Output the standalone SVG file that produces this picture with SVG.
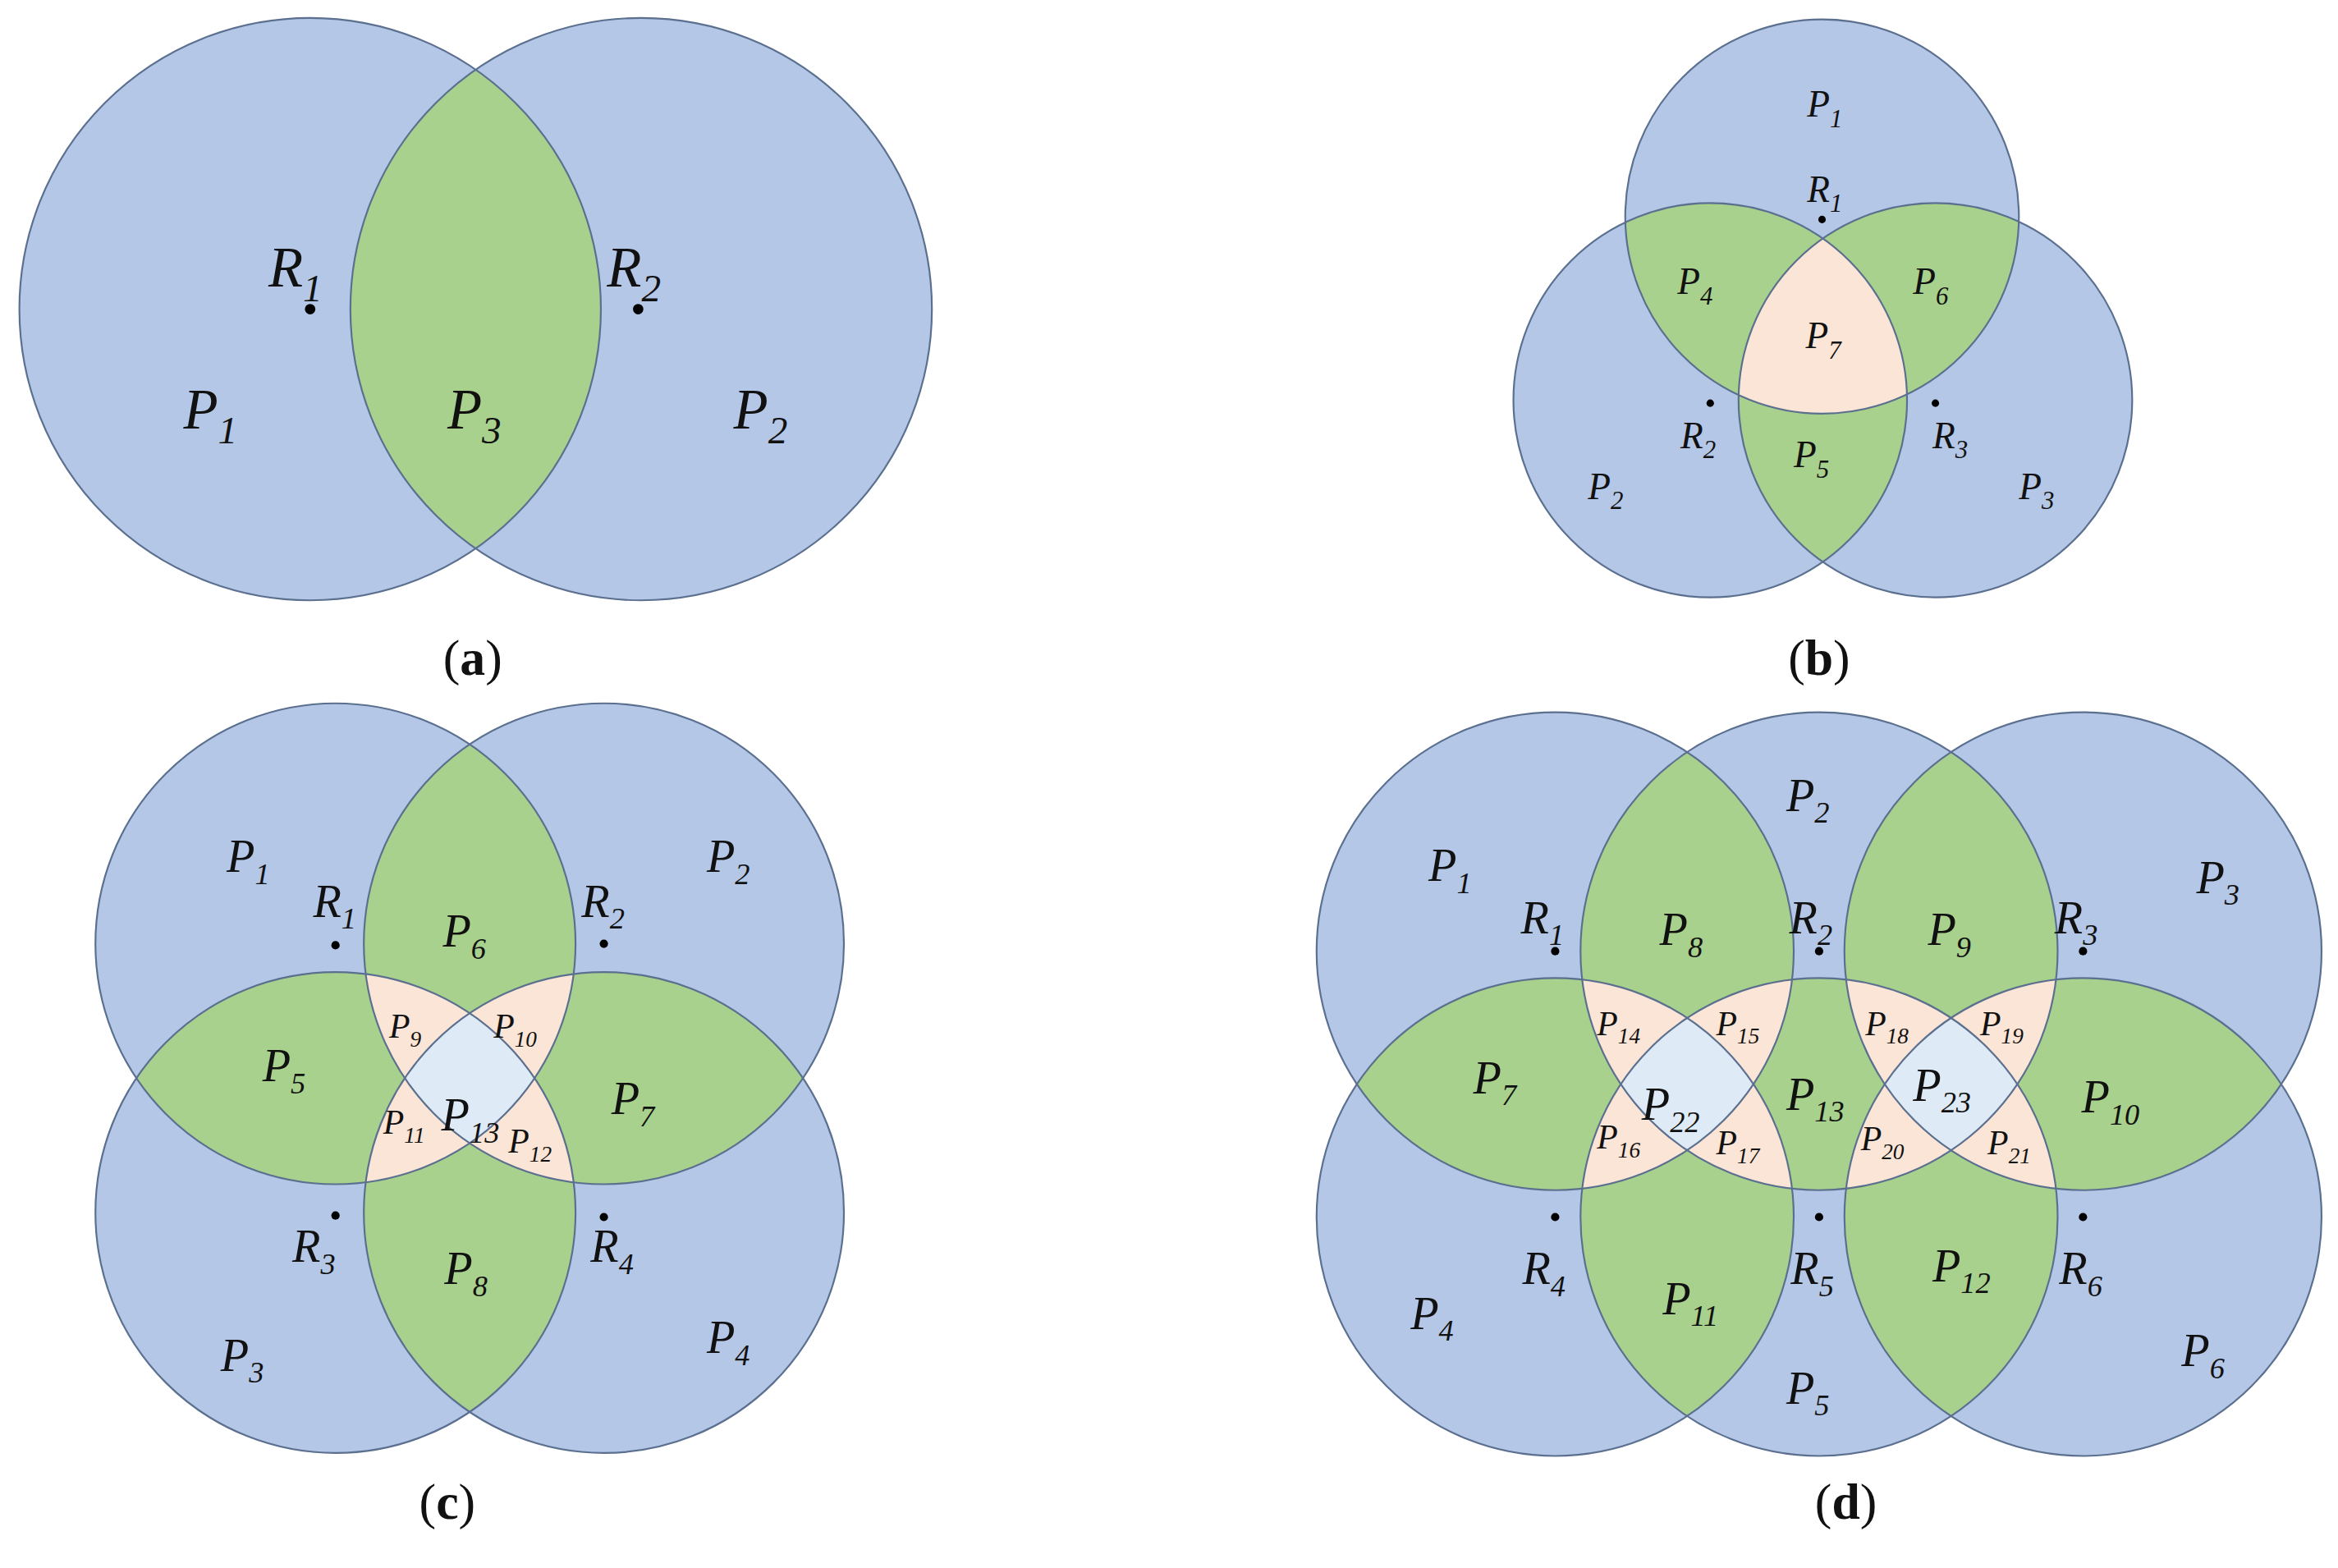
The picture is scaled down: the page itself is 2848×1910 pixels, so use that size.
<svg xmlns="http://www.w3.org/2000/svg" width="2848" height="1910" viewBox="0 0 2848 1910">
<style>
.b{fill:#b4c7e7}.g{fill:#a9d18e}.o{fill:#fbe5d6}.q{fill:#deebf7}
.ln{fill:none;stroke:#5b6f8f;stroke-width:1.2}
text{font-family:"Liberation Serif",serif;fill:#111}
.p{font-style:italic}
.cap{font-size:34px;text-anchor:middle}
</style>
<defs>
<clipPath id="a1"><circle cx="208" cy="207" r="195"/></clipPath>
<clipPath id="a2"><circle cx="430" cy="207" r="195"/></clipPath>
<clipPath id="b1"><circle cx="1222" cy="145" r="132"/></clipPath>
<clipPath id="b2"><circle cx="1147" cy="268" r="132"/></clipPath>
<clipPath id="b3"><circle cx="1298" cy="268" r="132"/></clipPath>
<clipPath id="c1"><circle cx="225" cy="632" r="161"/></clipPath>
<clipPath id="c2"><circle cx="405" cy="632" r="161"/></clipPath>
<clipPath id="c3"><circle cx="225" cy="812" r="161"/></clipPath>
<clipPath id="c4"><circle cx="405" cy="812" r="161"/></clipPath>
<clipPath id="d1"><circle cx="1043" cy="637" r="160"/></clipPath>
<clipPath id="d2"><circle cx="1220" cy="637" r="160"/></clipPath>
<clipPath id="d3"><circle cx="1397" cy="637" r="160"/></clipPath>
<clipPath id="d4"><circle cx="1043" cy="815" r="160"/></clipPath>
<clipPath id="d5"><circle cx="1220" cy="815" r="160"/></clipPath>
<clipPath id="d6"><circle cx="1397" cy="815" r="160"/></clipPath>
</defs>
<rect width="2848" height="1910" fill="#fff"/>
<g transform="scale(1.8163,1.819)">
<g id="panel-a">
<circle class="b" cx="208" cy="207" r="195"/><circle class="b" cx="430" cy="207" r="195"/>
<circle class="g" cx="430" cy="207" r="195" clip-path="url(#a1)"/>
<circle class="ln" cx="208" cy="207" r="195"/><circle class="ln" cx="430" cy="207" r="195"/>
<circle cx="208" cy="207" r="3.5"/><circle cx="428" cy="207" r="3.5"/>
<g font-size="38" class="p">
<text x="180" y="192">R<tspan font-size="26" dy="10">1</tspan></text>
<text x="407" y="192">R<tspan font-size="26" dy="10">2</tspan></text>
<text x="123" y="287">P<tspan font-size="26" dy="10">1</tspan></text>
<text x="300" y="287">P<tspan font-size="26" dy="10">3</tspan></text>
<text x="492" y="287">P<tspan font-size="26" dy="10">2</tspan></text>
</g>
<text class="cap" x="317" y="452">(<tspan font-weight="bold">a</tspan>)</text>
</g>
<g id="panel-b">
<circle class="b" cx="1222" cy="145" r="132"/><circle class="b" cx="1147" cy="268" r="132"/><circle class="b" cx="1298" cy="268" r="132"/>
<circle class="g" cx="1147" cy="268" r="132" clip-path="url(#b1)"/>
<circle class="g" cx="1298" cy="268" r="132" clip-path="url(#b1)"/>
<circle class="g" cx="1298" cy="268" r="132" clip-path="url(#b2)"/>
<g clip-path="url(#b1)"><circle class="o" cx="1298" cy="268" r="132" clip-path="url(#b2)"/></g>
<circle class="ln" cx="1222" cy="145" r="132"/><circle class="ln" cx="1147" cy="268" r="132"/><circle class="ln" cx="1298" cy="268" r="132"/>
<circle cx="1222" cy="147" r="2.5"/><circle cx="1147" cy="270" r="2.5"/><circle cx="1298" cy="270" r="2.5"/>
<g font-size="25" class="p">
<text x="1212" y="78">P<tspan font-size="17" dy="7">1</tspan></text>
<text x="1212" y="135">R<tspan font-size="17" dy="7">1</tspan></text>
<text x="1125" y="197">P<tspan font-size="17" dy="7">4</tspan></text>
<text x="1283" y="197">P<tspan font-size="17" dy="7">6</tspan></text>
<text x="1211" y="233">P<tspan font-size="17" dy="7">7</tspan></text>
<text x="1127" y="300">R<tspan font-size="17" dy="7">2</tspan></text>
<text x="1203" y="313">P<tspan font-size="17" dy="7">5</tspan></text>
<text x="1296" y="300">R<tspan font-size="17" dy="7">3</tspan></text>
<text x="1065" y="334">P<tspan font-size="17" dy="7">2</tspan></text>
<text x="1354" y="334">P<tspan font-size="17" dy="7">3</tspan></text>
</g>
<text class="cap" x="1220" y="452">(<tspan font-weight="bold">b</tspan>)</text>
</g>
<g id="panel-c">
<circle class="b" cx="225" cy="632" r="161"/><circle class="b" cx="405" cy="632" r="161"/><circle class="b" cx="225" cy="812" r="161"/><circle class="b" cx="405" cy="812" r="161"/>
<circle class="g" cx="405" cy="632" r="161" clip-path="url(#c1)"/>
<circle class="g" cx="225" cy="812" r="161" clip-path="url(#c1)"/>
<circle class="g" cx="405" cy="812" r="161" clip-path="url(#c2)"/>
<circle class="g" cx="405" cy="812" r="161" clip-path="url(#c3)"/>
<g clip-path="url(#c1)"><circle class="o" cx="405" cy="812" r="161" clip-path="url(#c2)"/><circle class="o" cx="405" cy="812" r="161" clip-path="url(#c3)"/><circle class="o" cx="225" cy="812" r="161" clip-path="url(#c2)"/></g>
<g clip-path="url(#c2)"><circle class="o" cx="405" cy="812" r="161" clip-path="url(#c3)"/></g>
<g clip-path="url(#c1)"><g clip-path="url(#c2)"><circle class="q" cx="405" cy="812" r="161" clip-path="url(#c3)"/></g></g>
<circle class="ln" cx="225" cy="632" r="161"/><circle class="ln" cx="405" cy="632" r="161"/><circle class="ln" cx="225" cy="812" r="161"/><circle class="ln" cx="405" cy="812" r="161"/>
<circle cx="225" cy="633" r="2.8"/><circle cx="405" cy="632" r="2.8"/><circle cx="225" cy="814" r="2.8"/><circle cx="405" cy="815" r="2.8"/>
<g font-size="31" class="p">
<text x="152" y="584">P<tspan font-size="20" dy="8">1</tspan></text>
<text x="210" y="614">R<tspan font-size="20" dy="8">1</tspan></text>
<text x="297" y="634">P<tspan font-size="20" dy="8">6</tspan></text>
<text x="390" y="614">R<tspan font-size="20" dy="8">2</tspan></text>
<text x="474" y="584">P<tspan font-size="20" dy="8">2</tspan></text>
<text x="176" y="724">P<tspan font-size="20" dy="8">5</tspan></text>
<text x="296" y="757">P<tspan font-size="20" dy="8">13</tspan></text>
<text x="410" y="746">P<tspan font-size="20" dy="8">7</tspan></text>
<text x="196" y="845">R<tspan font-size="20" dy="8">3</tspan></text>
<text x="298" y="860">P<tspan font-size="20" dy="8">8</tspan></text>
<text x="396" y="845">R<tspan font-size="20" dy="8">4</tspan></text>
<text x="148" y="918">P<tspan font-size="20" dy="8">3</tspan></text>
<text x="474" y="906">P<tspan font-size="20" dy="8">4</tspan></text>
</g>
<g font-size="23" class="p">
<text x="261" y="695">P<tspan font-size="15" dy="6">9</tspan></text>
<text x="331" y="695">P<tspan font-size="15" dy="6">10</tspan></text>
<text x="257" y="759">P<tspan font-size="15" dy="6">11</tspan></text>
<text x="341" y="772">P<tspan font-size="15" dy="6">12</tspan></text>
</g>
<text class="cap" x="300" y="1017">(<tspan font-weight="bold">c</tspan>)</text>
</g>
<g id="panel-d">
<circle class="b" cx="1043" cy="637" r="160"/><circle class="b" cx="1220" cy="637" r="160"/><circle class="b" cx="1397" cy="637" r="160"/>
<circle class="b" cx="1043" cy="815" r="160"/><circle class="b" cx="1220" cy="815" r="160"/><circle class="b" cx="1397" cy="815" r="160"/>
<circle class="g" cx="1220" cy="637" r="160" clip-path="url(#d1)"/>
<circle class="g" cx="1397" cy="637" r="160" clip-path="url(#d2)"/>
<circle class="g" cx="1220" cy="815" r="160" clip-path="url(#d4)"/>
<circle class="g" cx="1397" cy="815" r="160" clip-path="url(#d5)"/>
<circle class="g" cx="1043" cy="815" r="160" clip-path="url(#d1)"/>
<circle class="g" cx="1220" cy="815" r="160" clip-path="url(#d2)"/>
<circle class="g" cx="1397" cy="815" r="160" clip-path="url(#d3)"/>
<circle class="g" cx="1220" cy="815" r="160" clip-path="url(#d1)"/>
<circle class="g" cx="1043" cy="815" r="160" clip-path="url(#d2)"/>
<circle class="g" cx="1397" cy="815" r="160" clip-path="url(#d2)"/>
<circle class="g" cx="1220" cy="815" r="160" clip-path="url(#d3)"/>
<g clip-path="url(#d1)"><circle class="o" cx="1220" cy="815" r="160" clip-path="url(#d2)"/><circle class="o" cx="1220" cy="815" r="160" clip-path="url(#d4)"/><circle class="o" cx="1043" cy="815" r="160" clip-path="url(#d2)"/></g>
<g clip-path="url(#d2)"><circle class="o" cx="1220" cy="815" r="160" clip-path="url(#d4)"/><circle class="o" cx="1397" cy="815" r="160" clip-path="url(#d3)"/><circle class="o" cx="1220" cy="815" r="160" clip-path="url(#d3)"/><circle class="o" cx="1397" cy="815" r="160" clip-path="url(#d5)"/></g>
<g clip-path="url(#d3)"><circle class="o" cx="1397" cy="815" r="160" clip-path="url(#d5)"/></g>
<g clip-path="url(#d1)"><g clip-path="url(#d2)"><circle class="q" cx="1220" cy="815" r="160" clip-path="url(#d4)"/></g></g>
<g clip-path="url(#d2)"><g clip-path="url(#d3)"><circle class="q" cx="1397" cy="815" r="160" clip-path="url(#d5)"/></g></g>
<circle class="ln" cx="1043" cy="637" r="160"/><circle class="ln" cx="1220" cy="637" r="160"/><circle class="ln" cx="1397" cy="637" r="160"/>
<circle class="ln" cx="1043" cy="815" r="160"/><circle class="ln" cx="1220" cy="815" r="160"/><circle class="ln" cx="1397" cy="815" r="160"/>
<circle cx="1043" cy="637" r="2.8"/><circle cx="1220" cy="637" r="2.8"/><circle cx="1397" cy="637" r="2.8"/>
<circle cx="1043" cy="815" r="2.8"/><circle cx="1220" cy="815" r="2.8"/><circle cx="1397" cy="815" r="2.8"/>
<g font-size="31" class="p">
<text x="958" y="590">P<tspan font-size="20" dy="8">1</tspan></text>
<text x="1020" y="625">R<tspan font-size="20" dy="8">1</tspan></text>
<text x="1198" y="543">P<tspan font-size="20" dy="8">2</tspan></text>
<text x="1113" y="633">P<tspan font-size="20" dy="8">8</tspan></text>
<text x="1200" y="625">R<tspan font-size="20" dy="8">2</tspan></text>
<text x="1293" y="633">P<tspan font-size="20" dy="8">9</tspan></text>
<text x="1378" y="625">R<tspan font-size="20" dy="8">3</tspan></text>
<text x="1473" y="598">P<tspan font-size="20" dy="8">3</tspan></text>
<text x="988" y="732">P<tspan font-size="20" dy="8">7</tspan></text>
<text x="1101" y="750">P<tspan font-size="20" dy="8">22</tspan></text>
<text x="1198" y="743">P<tspan font-size="20" dy="8">13</tspan></text>
<text x="1283" y="737">P<tspan font-size="20" dy="8">23</tspan></text>
<text x="1396" y="745">P<tspan font-size="20" dy="8">10</tspan></text>
<text x="1021" y="860">R<tspan font-size="20" dy="8">4</tspan></text>
<text x="1115" y="880">P<tspan font-size="20" dy="8">11</tspan></text>
<text x="1201" y="860">R<tspan font-size="20" dy="8">5</tspan></text>
<text x="1296" y="858">P<tspan font-size="20" dy="8">12</tspan></text>
<text x="1381" y="860">R<tspan font-size="20" dy="8">6</tspan></text>
<text x="946" y="890">P<tspan font-size="20" dy="8">4</tspan></text>
<text x="1198" y="940">P<tspan font-size="20" dy="8">5</tspan></text>
<text x="1463" y="915">P<tspan font-size="20" dy="8">6</tspan></text>
</g>
<g font-size="23" class="p">
<text x="1071" y="693">P<tspan font-size="15" dy="6">14</tspan></text>
<text x="1151" y="693">P<tspan font-size="15" dy="6">15</tspan></text>
<text x="1251" y="693">P<tspan font-size="15" dy="6">18</tspan></text>
<text x="1328" y="693">P<tspan font-size="15" dy="6">19</tspan></text>
<text x="1071" y="769">P<tspan font-size="15" dy="6">16</tspan></text>
<text x="1151" y="773">P<tspan font-size="15" dy="6">17</tspan></text>
<text x="1248" y="770">P<tspan font-size="15" dy="6">20</tspan></text>
<text x="1333" y="773">P<tspan font-size="15" dy="6">21</tspan></text>
</g>
<text class="cap" x="1238" y="1017">(<tspan font-weight="bold">d</tspan>)</text>
</g>
</g>
</svg>
